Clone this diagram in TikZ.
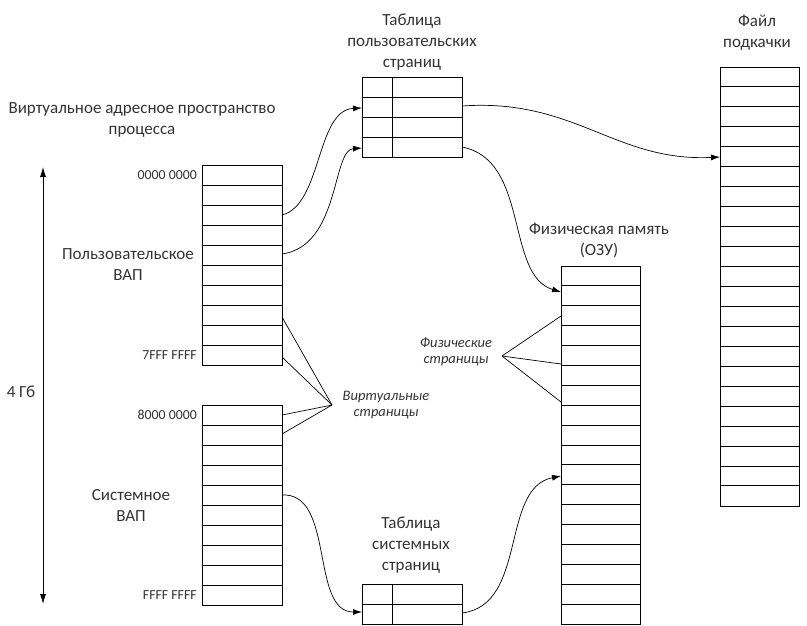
\documentclass[tikz,border=0pt]{standalone}
\usepackage{fontspec}
\setmainfont{Carlito}
\usetikzlibrary{arrows.meta}
\begin{document}
\begin{tikzpicture}[x=1pt,y=-1pt,
  lbl/.style={font=\fontsize{17}{21}\selectfont, align=center, inner sep=0, text=black!80},
  addr/.style={font=\fontsize{13.8}{14}\selectfont, anchor=east, inner sep=0, text=black!80},
  ital/.style={font=\itshape\fontsize{14.5}{16}\selectfont, align=center, inner sep=0, text=black!80},
  conn/.style={-{Latex[length=9pt,width=6pt]}, line width=0.7pt},
  ln/.style={line width=0.7pt},
  blk/.style={draw, line width=1pt, inner sep=0, anchor=north west},
  rowline/.style={line width=1pt}
]
\useasboundingbox (0,0) rectangle (807,625);

% blocks
\node[blk, minimum width=80pt, minimum height=200pt] (user) at (202,165) {};
\foreach \i in {1,...,9} \draw[rowline] ([yshift=-20*\i pt]user.north west) -- ++(80,0);
\node[blk, minimum width=80pt, minimum height=200pt] (sys) at (202,405) {};
\foreach \i in {1,...,9} \draw[rowline] ([yshift=-20*\i pt]sys.north west) -- ++(80,0);
\node[blk, minimum width=100pt, minimum height=80pt] (utab) at (362,77) {};
\foreach \i in {1,...,3} \draw[rowline] ([yshift=-20*\i pt]utab.north west) -- ++(100,0);
\draw[rowline] ([xshift=30pt]utab.north west) -- ([xshift=30pt]utab.south west);
\node[blk, minimum width=100pt, minimum height=40pt] (stab) at (362,584) {};
\draw[rowline] ([yshift=-20pt]stab.north west) -- ++(100,0);
\draw[rowline] ([xshift=30pt]stab.north west) -- ([xshift=30pt]stab.south west);
\node[blk, minimum width=79pt, minimum height=358pt] (phys) at (561,266) {};
\foreach \i in {1,...,17} \draw[rowline] ([yshift=-19.89*\i pt]phys.north west) -- ++(79,0);
\node[blk, minimum width=79pt, minimum height=439pt] (swap) at (720,67) {};
\foreach \i in {1,...,21} \draw[rowline] ([yshift=-19.95*\i pt]swap.north west) -- ++(79,0);

% texts
\node[lbl] (vastitle) at (142,120) {Виртуальное адресное пространство\\процесса};
\node[lbl] (uvap) at (128,265) {Пользовательское\\ВАП};
\node[lbl] (svap) at (131,505) {Системное\\ВАП};
\node[lbl] (gb) at (21,392) {4 Гб};
\node[addr] (a1) at (197,175) {0000 0000};
\node[addr] (a2) at (197,355) {7FFF FFFF};
\node[addr] (a3) at (197,415) {8000 0000};
\node[addr] (a4) at (197,595) {FFFF FFFF};
\node[lbl] (utabt) at (412,42) {Таблица\\пользовательских\\страниц};
\node[lbl] (swapt) at (757,33) {Файл\\подкачки};
\node[lbl] (physt) at (599,240) {Физическая память\\(ОЗУ)};
\node[lbl] (stabt) at (411,545) {Таблица\\системных\\страниц};
\node[ital] (vpages) at (386,405) {Виртуальные\\страницы};
\node[ital] (ppages) at (456,352) {Физические\\страницы};

% 4 GB arrow
\coordinate (gtop) at (43,167);
\coordinate (gbot) at (43,604);
\draw[{Latex[length=10pt,width=6pt]}-{Latex[length=10pt,width=6pt]}, line width=0.8pt] (gtop) -- (gbot);

% pointer lines
\coordinate (vp) at (332,405);
\draw[ln] (vp) -- (282,317);
\draw[ln] (vp) -- (282,357);
\draw[ln] (vp) -- (282,415);
\draw[ln] (vp) -- (282,434);
\coordinate (pp) at (502,356);
\draw[ln] (pp) -- (561,316);
\draw[ln] (pp) -- (561,364);
\draw[ln] (pp) -- (561,402);

% connectors
\coordinate (u1) at (282,215);
\coordinate (u2) at (282,254);
\coordinate (t1) at (362,108);
\coordinate (t2) at (362,148);
\draw[conn] (u1) .. controls (322,205) and (316,110) .. (t1);
\draw[conn] (u2) .. controls (340,246) and (332,150) .. (t2);
\coordinate (to1) at (462,106);
\coordinate (to2) at (462,147);
\coordinate (sw) at (720,157);
\coordinate (ph1) at (561,292);
\draw[conn] (to1) .. controls (575,98) and (615,162) .. (sw);
\draw[conn] (to2) .. controls (530,160) and (505,275) .. (ph1);
\coordinate (s1) at (282,495);
\coordinate (st1) at (362,612);
\coordinate (st2) at (462,613);
\coordinate (ph2) at (561,476);
\draw[conn] (s1) .. controls (335,492) and (310,612) .. (st1);
\draw[conn] (st2) .. controls (528,605) and (500,488) .. (ph2);
\end{tikzpicture}
\end{document}
